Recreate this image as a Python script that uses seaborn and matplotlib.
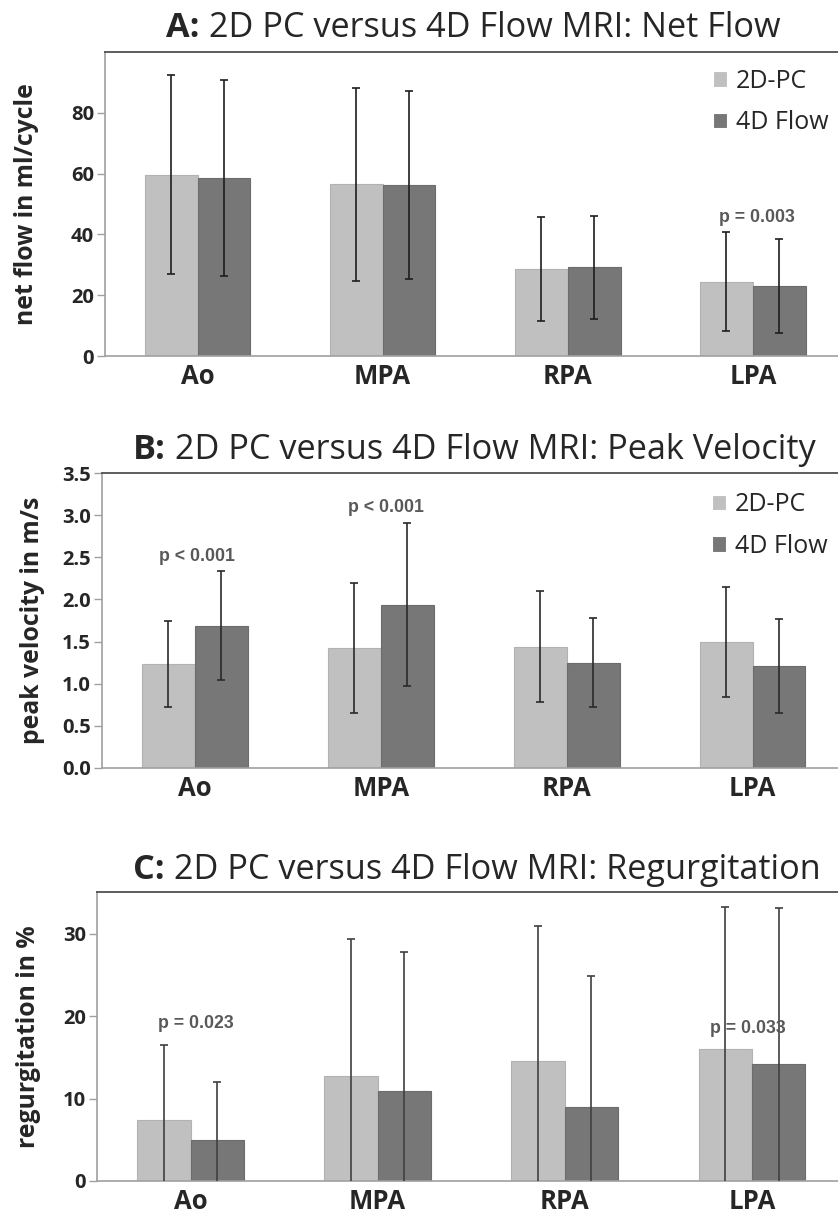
import pandas as pd
import matplotlib
matplotlib.use("Agg")
import matplotlib.pyplot as plt
import seaborn as sns

SITES = ["Ao", "MPA", "RPA", "LPA"]
METHODS = ["2D-PC", "4D Flow"]

# net flow (ml/cycle)
net_flow_2d = [59.6, 56.5, 28.5, 24.5]
net_flow_2d_sd = [32.7, 31.7, 17.1, 16.3]
net_flow_4d = [58.5, 56.2, 29.2, 23.0]
net_flow_4d_sd = [32.2, 30.9, 17.0, 15.5]

# peak velocity (m/s)
peak_vel_2d = [1.23, 1.42, 1.44, 1.50]
peak_vel_2d_sd = [0.51, 0.775, 0.656, 0.654]
peak_vel_4d = [1.69, 1.94, 1.25, 1.21]
peak_vel_4d_sd = [0.65, 0.97, 0.53, 0.56]

# regurgitation (%)
regurg_2d = [7.4, 12.7, 14.5, 16.0]
regurg_2d_sd = [9.1, 16.6, 16.4, 17.2]
regurg_4d = [5.0, 10.9, 9.0, 14.2]
regurg_4d_sd = [7.0, 16.9, 15.9, 18.9]

# p-value annotations: (category position, y value, text)
p_net_flow = [(3.02, 45.4, "p = 0.003")]
p_peak_vel = [(0.01, 2.51, "p < 0.001"), (1.03, 3.09, "p < 0.001")]
p_regurg = [(0.03, 19.1, "p = 0.023"), (2.98, 18.5, "p = 0.033")]

ticks_net_flow = [0, 20, 40, 60, 80]
ticks_peak_vel = [0.0, 0.5, 1.0, 1.5, 2.0, 2.5, 3.0, 3.5]
tick_labels_peak_vel = ["0.0", "0.5", "1.0", "1.5", "2.0", "2.5", "3.0", "3.5"]
ticks_regurg = [0, 10, 20, 30]

COLORS = {"2D-PC": "#c0c0c0", "4D Flow": "#777777"}
EDGES = ["#b2b2b2", "#6c6c6c"]

sns.set_style("white")
plt.rcParams['font.family'] = ['Open Sans', 'DejaVu Sans']


def long_frame(vals_2d, vals_4d):
    rows = []
    for site, v in zip(SITES, vals_2d):
        rows.append({"site": site, "method": METHODS[0], "value": v})
    for site, v in zip(SITES, vals_4d):
        rows.append({"site": site, "method": METHODS[1], "value": v})
    return pd.DataFrame(rows)


def draw_panel(fig, rect, vals_2d, sd_2d, vals_4d, sd_4d, ylim, yticks,
               yticklabels, ylabel, ylabel_x, letter, title, title_x, title_y,
               pvals, err_color, legend_y=None):
    ax = fig.add_axes(rect)
    df = long_frame(vals_2d, vals_4d)
    sns.barplot(data=df, x="site", y="value", hue="method", palette=COLORS,
                width=0.57, errorbar=None, ax=ax, linewidth=0.8, saturation=1)
    for cont, edge in zip(ax.containers, EDGES):
        for b in cont:
            b.set_edgecolor(edge)

    for cont, sds in zip(ax.containers, [sd_2d, sd_4d]):
        xs = [b.get_x() + b.get_width() / 2 for b in cont]
        ys = [b.get_height() for b in cont]
        ax.errorbar(xs, ys, yerr=sds, fmt="none", ecolor=err_color,
                    elinewidth=1.2, capsize=2.6, capthick=1.2, zorder=3)

    for x, y, txt in pvals:
        ax.text(x, y, txt, ha="center", va="center", fontsize=12.8,
                fontweight="bold", color="#595959", family="Liberation Sans",
                zorder=4)

    ax.set_xlim(-0.5, 3.46)
    ax.set_ylim(*ylim)
    ax.set_yticks(yticks)
    ax.set_yticklabels(yticklabels if yticklabels else [str(t) for t in yticks],
                       fontweight="bold", fontsize=14.5)
    ax.set_xticks(range(len(SITES)))
    ax.set_xticklabels(SITES, fontweight="bold", fontsize=18.5)
    ax.set_xticks([-0.5, 0.5, 1.5, 2.5], minor=True)
    ax.tick_params(axis="x", which="major", length=0, pad=5)
    ax.tick_params(axis="x", which="minor", length=7, width=1, color="#a0a0a0",
                   direction="out")
    ax.tick_params(axis="y", length=6, width=1, color="#a0a0a0", direction="out",
                   pad=2, left=True)
    ax.set_xlabel("")
    ax.set_ylabel(ylabel, fontweight="bold", fontsize=17.8)
    ax.yaxis.set_label_coords(ylabel_x, 0.5)

    for side in ["left", "bottom"]:
        ax.spines[side].set_color("#a0a0a0")
        ax.spines[side].set_linewidth(1.2)
    ax.spines["top"].set_color("#505050")
    ax.spines["top"].set_linewidth(1.3)
    ax.spines["right"].set_visible(False)

    if legend_y is None:
        ax.get_legend().remove()
    else:
        handles, labels = ax.get_legend_handles_labels()
        ax.legend(handles, labels, loc="upper left", bbox_to_anchor=(0.829, legend_y),
                  frameon=False, fontsize=18, handlelength=0.57, handleheight=0.57,
                  handletextpad=0.35, labelspacing=0.66, borderaxespad=0,
                  borderpad=0)

    t = fig.text(title_x, title_y, letter, fontsize=24.7, fontweight="bold",
                 ha="left", va="center")
    ax.annotate(" " + title, xy=(1, 0.5), xycoords=t, va="center", ha="left",
                fontsize=24.7, annotation_clip=False)
    return ax


def main():
    fig = plt.figure(figsize=(8.38, 12.16), dpi=100)
    W, H = 838.0, 1216.0

    draw_panel(fig, [105 / W, 1 - 356 / H, 733 / W, 304 / H],
               net_flow_2d, net_flow_2d_sd, net_flow_4d, net_flow_4d_sd,
               (0, 100), ticks_net_flow, None, "net flow in ml/cycle", -0.09,
               "A:", "2D PC versus 4D Flow MRI: Net Flow", 166 / W, 1 - 28 / H,
               p_net_flow, "#1e1e1e", legend_y=0.945)

    draw_panel(fig, [102 / W, 1 - 767.7 / H, 736 / W, 294.4 / H],
               peak_vel_2d, peak_vel_2d_sd, peak_vel_4d, peak_vel_4d_sd,
               (0, 3.5), ticks_peak_vel, tick_labels_peak_vel,
               "peak velocity in m/s", -0.078,
               "B:", "2D PC versus 4D Flow MRI: Peak Velocity", 133 / W, 1 - 450 / H,
               p_peak_vel, "#2a2a2a", legend_y=0.935)

    draw_panel(fig, [97 / W, 1 - 1181 / H, 741 / W, 288.7 / H],
               regurg_2d, regurg_2d_sd, regurg_4d, regurg_4d_sd,
               (0, 35), ticks_regurg, None, "regurgitation in %", -0.076,
               "C:", "2D PC versus 4D Flow MRI: Regurgitation", 133 / W, 1 - 870 / H,
               p_regurg, "#404040")

    fig.savefig("out.png", dpi=100)


if __name__ == "__main__":
    main()
